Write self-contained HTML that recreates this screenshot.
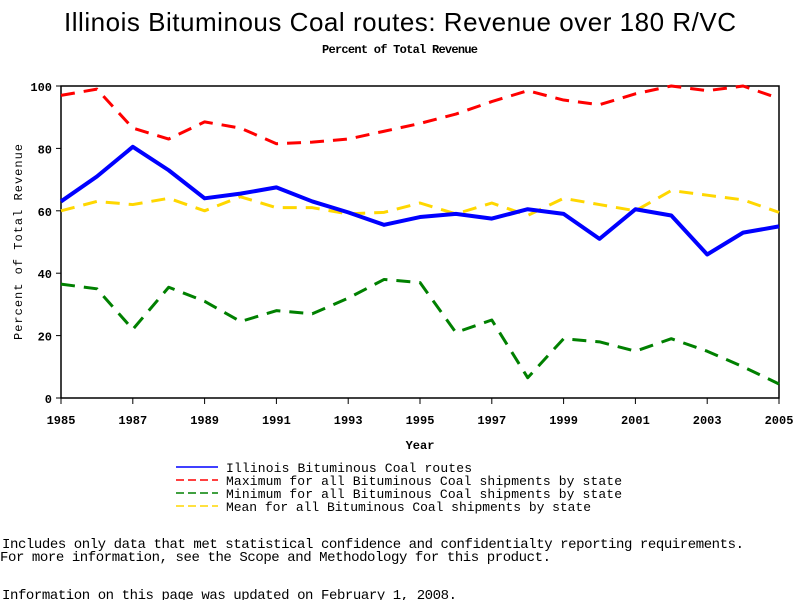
<!DOCTYPE html>
<html><head><meta charset="utf-8"><style>
body{margin:0;background:#fff;width:800px;height:600px;overflow:hidden}
svg text{font-family:"Liberation Mono",monospace}
</style></head><body>
<svg id="chart" width="800" height="600">
<text x="400" y="31" text-anchor="middle" font-size="26" textLength="672" style="font-family:'Liberation Sans',sans-serif">Illinois Bituminous Coal routes: Revenue over 180 R/VC</text>
<text x="400" y="53" text-anchor="middle" font-size="12" font-weight="bold" textLength="156">Percent of Total Revenue</text>
<rect x="61" y="86" width="718" height="312" fill="none" stroke="#000" stroke-width="1.5"/>
<g id="axes"></g>
<g id="series"></g>
<text x="420" y="449" text-anchor="middle" font-size="12" font-weight="bold">Year</text>
<text transform="translate(22,242) rotate(-90)" text-anchor="middle" font-size="12" textLength="196">Percent of Total Revenue</text>
<g id="legend"></g>
<text x="2" y="548" font-size="14" textLength="742">Includes only data that met statistical confidence and confidentialty reporting requirements.</text>
<text x="0" y="561" font-size="14" textLength="551">For more information, see the Scope and Methodology for this product.</text>
<text x="2" y="599" font-size="14" textLength="455">Information on this page was updated on February 1, 2008.</text>
</svg>
<script>
const years=[1985,1986,1987,1988,1989,1990,1991,1992,1993,1994,1995,1996,1997,1998,1999,2000,2001,2002,2003,2004,2005];
const illinois=[63,71,80.5,73,64,65.5,67.5,63,59.5,55.5,58,59,57.5,60.5,59,51,60.5,58.5,46,53,55];
const maximum=[97,99,86.5,83,88.5,86.5,81.5,82,83,85.5,88,91,95,98.5,95.5,94,97.5,100,98.5,100,96];
const minimum=[36.5,35,22,35.5,31,24.5,28,27,32,38,37,21,25,6.5,19,18,15,19,15,10,4.5];
const mean=[60,63,62,64,60,64.5,61,61,59,59.5,62.5,59,62.5,58.5,64,62,60,66.5,65,63.5,59.5];
const yTicks=[0,20,40,60,80,100];
const xTicks=[1985,1987,1989,1991,1993,1995,1997,1999,2001,2003,2005];
const NS='http://www.w3.org/2000/svg';
const X=y=>61+(y-1985)*(718/20);
const Y=v=>398-v*3.12;
function mk(tag,attrs,parent){const e=document.createElementNS(NS,tag);for(const k in attrs)e.setAttribute(k,attrs[k]);parent.appendChild(e);return e;}
const axes=document.getElementById('axes');
yTicks.forEach(t=>{
  const l=mk('line',{x1:56,x2:61,y1:Y(t),y2:Y(t),stroke:'#000'},axes);
  
  
  const tx=mk('text',{x:52,y:Y(t)+5,'text-anchor':'end','font-size':12,'font-weight':'bold'},axes);
  tx.textContent=t;
  
  
});
xTicks.forEach(t=>{
  const l=mk('line',{x1:X(t),x2:X(t),y1:398,y2:404,stroke:'#000'},axes);
  
  
  const tx=mk('text',{x:X(t),y:424,'text-anchor':'middle','font-size':12,'font-weight':'bold'},axes);
  tx.textContent=t;
  
  
});
const sg=document.getElementById('series');
function line(vals,color,w,dash,name){
  const p=mk('polyline',{points:vals.map((v,i)=>X(years[i])+','+Y(v)).join(' '),fill:'none',stroke:color,'stroke-width':w,'stroke-dasharray':dash,'stroke-linejoin':'round'},sg);
  
  
}
line(minimum,'#008000',3,'14 9','series-minimum');
line(mean,'#ffd700',3,'14 9','series-mean');
line(maximum,'#ff0000',3,'14 9','series-maximum');
line(illinois,'#0000ff',4,'none','series-illinois');
const lg=document.getElementById('legend');
const items=[['#0000ff','none','Illinois Bituminous Coal routes',246],['#ff0000','8 4','Maximum for all Bituminous Coal shipments by state',396],['#008000','8 4','Minimum for all Bituminous Coal shipments by state',396],['#ffd700','8 4','Mean for all Bituminous Coal shipments by state',365]];
items.forEach((it,i)=>{
  const y=467+i*13;
  const l=mk('line',{x1:176,x2:218,y1:y,y2:y,stroke:it[0],'stroke-width':1.5,'stroke-dasharray':it[1]},lg);
  
  
  const t=mk('text',{x:226,y:y+5,'font-size':13,textLength:it[3]},lg);
  t.textContent=it[2];
  
  
});
</script>
</body></html>
